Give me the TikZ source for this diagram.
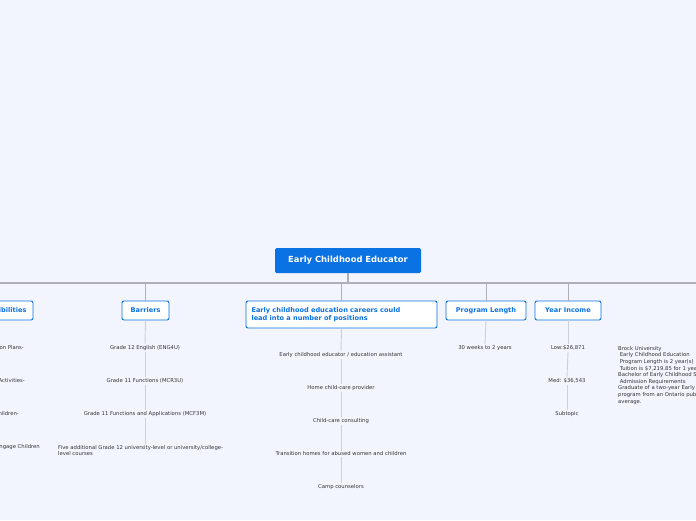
\documentclass[tikz,border=0pt]{standalone}
\usepackage{fontspec}
\setmainfont{DejaVu Sans}
\definecolor{bg}{HTML}{F2F5FE}
\definecolor{blu}{HTML}{0B72E3}
\definecolor{ln}{HTML}{AEB0B6}
\definecolor{lnl}{HTML}{CDD0D8}
\definecolor{tx}{HTML}{333333}
\begin{document}
\begin{tikzpicture}[x=1pt,y=-1pt,
 rootbox/.style={fill=blu,rounded corners=1.5pt,text=white,font=\fontsize{8.4}{9}\bfseries\selectfont,minimum height=25pt,inner xsep=6pt},
 topic/.style={draw=blu,line width=0.9pt,fill=white,rounded corners=2pt,text=blu,font=\fontsize{6.6}{8.4}\bfseries\selectfont,minimum height=19pt,inner xsep=5pt},
 sub/.style={text=tx,font=\fontsize{5.3}{6.5}\selectfont,inner sep=1pt},
 main/.style={ln,line width=1.6pt},
 thin/.style={lnl,line width=0.9pt}]
\fill[bg] (0,0) rectangle (696,520);
\useasboundingbox (0,0) rectangle (696,520);
\clip (0,0) rectangle (696,520);
\node[rootbox,minimum width=146pt] (root) at (348,260.5) {Early Childhood Educator};
\coordinate (bar) at (348,283);
\draw[main] (0,283) -- (696,283);
\draw[main] (root.south) -- (bar);
% topics
\node[topic,minimum width=72pt] (resp) at (-3,310.5) {Responsibilities};
\node[topic,minimum width=47pt] (barr) at (145.5,310.5) {Barriers};
\node[topic,minimum width=191pt,align=left,text width=180pt,minimum height=27pt] (car) at (341.5,314.5) {Early childhood education careers could\\lead into a number of positions};
\node[topic,minimum width=80pt] (prog) at (486,310.5) {Program Length};
\node[topic,minimum width=66pt] (inc) at (568,310.5) {Year Income};
\foreach \n in {barr,car,prog,inc}{\draw[ln,line width=1pt,rounded corners=3pt] (\n.north) -- (\n.north |- bar);}
% responsibilities children
\node[sub,anchor=east] (r1) at (25,348) {Lesson Plans-};
\node[sub,anchor=east] (r2) at (26,381) {Activities-};
\node[sub,anchor=east] (r3) at (20,414) {Children-};
\node[sub,anchor=east] (r4) at (41,447) {Engage Children};
% barriers
\node[sub] (b1) at (145,348) {Grade 12 English (ENG4U)};
\node[sub] (b2) at (145,381) {Grade 11 Functions (MCR3U)};
\node[sub] (b3) at (145,414) {Grade 11 Functions and Applications (MCF3M)};
\node[sub,align=left,anchor=north west] (b4) at (57,444) {Five additional Grade 12 university-level or university/college-\\level courses};
\draw[thin] (barr.south) -- (b1.north);
\draw[thin] (b1.south) -- (b2.north);
\draw[thin] (b2.south) -- (b3.north);
\draw[thin] (b3.south) -- (b3.south |- b4.north);
% careers
\node[sub] (c1) at (341,355) {Early childhood educator / education assistant};
\node[sub] (c2) at (341,388) {Home child-care provider};
\node[sub] (c3) at (341,421) {Child-care consulting};
\node[sub] (c4) at (341,454) {Transition homes for abused women and children};
\node[sub] (c5) at (341,487) {Camp counselors};
\draw[thin] (car.south) -- (c1.north);
\draw[thin] (c1.south) -- (c2.north);
\draw[thin] (c2.south) -- (c3.north);
\draw[thin] (c3.south) -- (c4.north);
\draw[thin] (c4.south) -- (c5.north);
% program
\node[sub] (p1) at (485,348) {30 weeks to 2 years};
\draw[thin] (prog.south) -- (p1.north);
% income
\node[sub] (i1) at (568,348) {Low:\$26,871};
\node[sub] (i2) at (567,381) {Med: \$36,543};
\node[sub] (i3) at (567,414) {Subtopic};
\draw[thin] (inc.south) -- (i1.north);
\draw[thin] (i1.south) -- (i2.north);
\draw[thin] (i2.south) -- (i3.north);
% brock
\node[sub,anchor=north west,align=left,font=\fontsize{5.3}{6.6}\selectfont] (brock) at (617,345) {Brock University\\
\ Early Childhood Education\\
\ Program Length is 2 year(s)\\
\ Tuition is \$7,219.85 for 1 year\\
Bachelor of Early Childhood Studies\\
\ Admission Requirements\\
Graduate of a two-year Early Childhood Education\\
program from an Ontario public college\\
average.};
\end{tikzpicture}
\end{document}
